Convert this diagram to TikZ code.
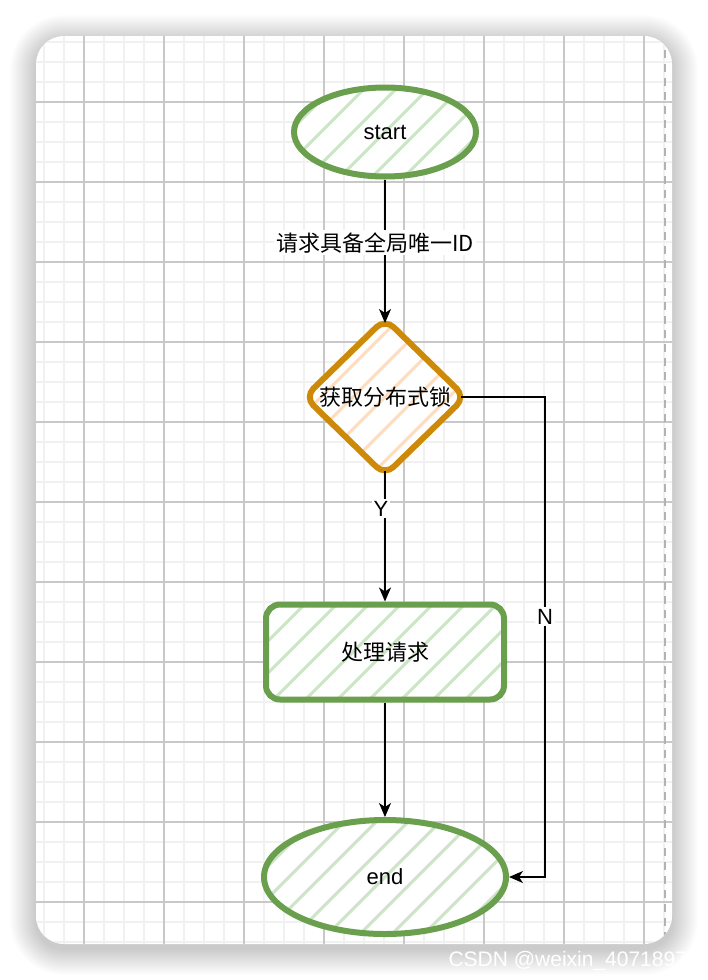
\documentclass[tikz,border=0pt]{standalone}
\usepackage{fontspec}
\setmainfont{Liberation Sans}
\newfontfamily\cjk{Noto Sans CJK SC}
\usetikzlibrary{shapes.geometric,arrows.meta}

\definecolor{leafline}{RGB}{106,160,77}
\definecolor{leaffill}{RGB}{204,229,198}
\definecolor{lockline}{RGB}{205,138,8}
\definecolor{lockfill}{RGB}{255,221,188}
\definecolor{gridminor}{RGB}{241,241,241}
\definecolor{gridmajor}{RGB}{200,200,200}

\begin{document}
\begin{tikzpicture}[x=1pt,y=-1pt,
    font=\fontsize{22}{26}\selectfont,
    hatch/.style={path picture={\foreach \k in {-12,...,12}
        \draw[#1,line width=3pt] (path picture bounding box.center) ++(\k*32pt-300pt,-300pt) -- ++(600pt,600pt);}},
    leaf/.style={draw=leafline, line width=6pt, fill=white, hatch=leaffill},
    lockbox/.style={draw=lockline, line width=6pt, fill=white, hatch=lockfill},
    link/.style={line width=1.5pt, -{Stealth[length=14pt,width=12pt,inset=4pt]}},
    lbl/.style={fill=white, inner sep=2pt}]
  \useasboundingbox (0,0) rectangle (708,980);
  \fill[white] (0,0) rectangle (708,980);
  % card shadow
  \foreach \r [evaluate=\r as \rc using 28+\r] in {1,...,26}
    \fill[black, opacity=0.0065, rounded corners=\rc pt] (36-\r,36-\r+5) rectangle (672+\r,944+\r+5);
  \fill[white, rounded corners=28pt] (36,36) rectangle (672,944);
  \begin{scope}
    \clip[rounded corners=28pt] (36,36) rectangle (672,944);
    \foreach \x in {44,64,...,664} \draw[gridminor, line width=2.5pt] (\x,36) -- (\x,944);
    \foreach \y in {42,62,...,942} \draw[gridminor, line width=2.5pt] (36,\y) -- (672,\y);
    \foreach \x in {84,164,...,644} \draw[gridmajor, line width=1.2pt] (\x,36) -- (\x,944);
    \foreach \y in {102,182,...,902} \draw[gridmajor, line width=1.2pt] (36,\y) -- (672,\y);
    \draw[gray!60, line width=2pt, dash pattern=on 8pt off 6pt] (665,50) -- (665,944);
  \end{scope}

  % nodes
  \node[leaf, ellipse, minimum width=182pt, minimum height=89pt] (start) at (385,132) {start};
  \node[lockbox, diamond, rounded corners=12pt, inner sep=0pt, outer sep=-3pt, minimum width=158pt, minimum height=154pt] (lock) at (385,397) {\makebox[0pt]{\cjk 获取分布式锁}};
  \node[leaf, rectangle, rounded corners=14pt, minimum width=238pt, minimum height=95pt] (work) at (385,652) {\cjk 处理请求};
  \node[leaf, ellipse, minimum width=242pt, minimum height=114pt] (end) at (385,877) {end};
  \coordinate (nturn) at (545,397);

  % links
  \draw[link] (start.south) -- node[lbl, pos=0.44, xshift=-10pt] {\cjk 请求具备全局唯一ID} (lock.north);
  \draw[link] (lock.south) -- node[lbl, pos=0.29, xshift=-4pt] {Y} (work.north);
  \draw[link] (work.south) -- (end.north);
  \draw[link] (lock.east) -- (nturn) |- node[lbl, pos=0.229] {N} (end.east);

  % watermark
  \node[text=white, anchor=west, font=\fontsize{21}{24}\selectfont] (mark) at (445,961) {CSDN @weixin\_4071897};
\end{tikzpicture}
\end{document}
